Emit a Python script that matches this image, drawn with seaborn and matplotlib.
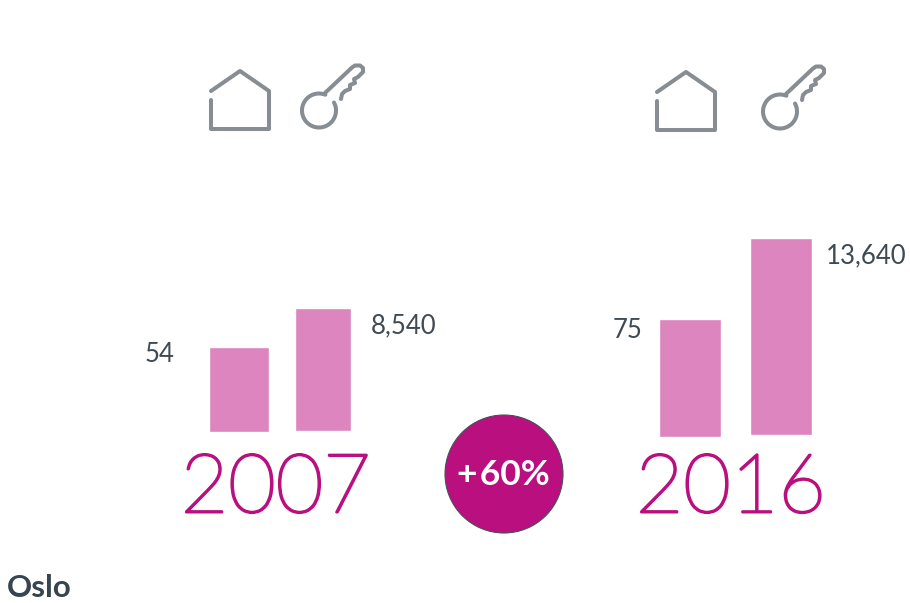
import numpy as np
import pandas as pd
import matplotlib
matplotlib.use('Agg')
import matplotlib.pyplot as plt
import matplotlib.patheffects as pe
import seaborn as sns

# Values
years = ['2007', '2016']
homes = [54, 75]
rents = [8540, 13640]
home_labels = ['54', '75']
rent_labels = ['8,540', '13,640']
change_label = '+\u200a60%'
city = 'Oslo'

PINK = '#dc85bf'
MAGENTA = '#b90f7f'
GREY = '#878d92'
TEXT = '#3f4a52'

W, H = 910, 603
sns.set_theme(style='white')
plt.rcParams['font.family'] = ['Lato', 'DejaVu Sans']

fig = plt.figure(figsize=(W / 100, H / 100), dpi=100)

# overlay in pixel coordinates for the icons and text
ov = fig.add_axes([0, 0, 1, 1])
ov.set_xlim(0, W)
ov.set_ylim(H, 0)
ov.axis('off')


def bar_axes(x0, x1, base, value, units_per_px):
    # one axes per bar, the y scale sets the height of the bar
    top = 200
    ax = fig.add_axes([x0 / W, 1 - base / H, (x1 - x0) / W, (base - top) / H])
    df = pd.DataFrame({'k': ['a'], 'v': [value]})
    sns.barplot(data=df, x='k', y='v', ax=ax, color=PINK, width=1, saturation=1)
    ax.set_xlim(-0.5, 0.5)
    ax.set_ylim(0, (base - top) * units_per_px)
    ax.axis('off')
    ax.patch.set_alpha(0)


HOME_SCALE = 0.635
RENT_SCALE = 69.25
bar_axes(209, 269, 432, homes[0], HOME_SCALE)
bar_axes(295, 351, 431, rents[0], RENT_SCALE)
bar_axes(659, 721, 437, homes[1], HOME_SCALE)
bar_axes(750, 812, 435, rents[1], RENT_SCALE)


def house(dx, dy):
    xs = np.array([211, 240, 269, 269, 211, 211]) + dx
    ys = np.array([91, 71, 91, 129, 129, 100]) + dy
    ov.plot(xs, ys, color=GREY, lw=2.9, solid_capstyle='round', solid_joinstyle='round')


def key(dx, dy):
    t = np.radians(np.linspace(68, 388, 60))
    cx, cy, r = 319, 110.5, 17
    xs = list(cx + r * np.cos(t))
    ys = list(cy - r * np.sin(t))
    ov.plot(np.array(xs) + dx, np.array(ys) + dy, color=GREY, lw=2.9, solid_capstyle='round')
    bx = np.array([325, 352, 355, 360, 363, 363, 358, 354, 355, 350, 350, 345, 342, 341])
    by = np.array([93, 67.5, 65.5, 65.5, 68, 72, 77, 79, 83, 85, 89, 91, 94, 99])
    ov.plot(bx + dx, by + dy, color=GREY, lw=2.9, solid_capstyle='round', solid_joinstyle='round')


house(0, 0)
house(446, 1)
key(0, 0)
key(461, 1)

# value labels
ov.text(160, 354, home_labels[0], ha='center', va='center', fontsize=18.5, color=TEXT)
ov.text(404, 326, rent_labels[0], ha='center', va='center', fontsize=18.5, color=TEXT)
ov.text(628, 331, home_labels[1], ha='center', va='center', fontsize=18.5, color=TEXT)
ov.text(866, 256, rent_labels[1], ha='center', va='center', fontsize=18.5, color=TEXT)

# years, hairline face thickened with a round stroke
stroke = [pe.withStroke(linewidth=1.8, foreground=MAGENTA, capstyle='round', joinstyle='round')]
ov.text(276, 490, years[0], ha='center', va='center', fontsize=59, color=MAGENTA,
        fontweight='light', path_effects=stroke)
ov.text(731, 490, years[1], ha='center', va='center', fontsize=59, color=MAGENTA,
        fontweight='light', path_effects=stroke)

# badge
badge = plt.Circle((504, 474), 59, facecolor=MAGENTA, edgecolor='#4a4f5c', lw=0.8)
ov.add_patch(badge)
ov.text(503, 475, change_label, ha='center', va='center', fontsize=25.5, color='white', fontweight='bold')

ov.text(7, 597, city, ha='left', va='baseline', fontsize=22.5, color='#36454f', fontweight='bold')

fig.savefig('out.png', dpi=100)
